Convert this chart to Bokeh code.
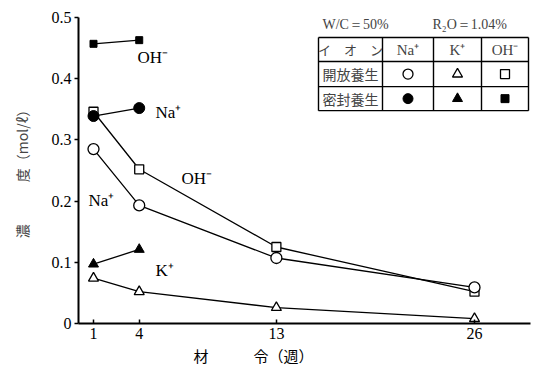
from bokeh.plotting import figure
from bokeh.models import Range1d, FixedTicker, Label, Title
from bokeh.embed import file_html
from bokeh.resources import INLINE

# ---- data ----
weeks_open = [1, 4, 13, 26]
na_open = [0.285, 0.193, 0.107, 0.059]
k_open = [0.074, 0.052, 0.026, 0.008]
oh_open = [0.346, 0.252, 0.125, 0.052]

weeks_sealed = [1, 4]
na_sealed = [0.339, 0.352]
k_sealed = [0.097, 0.121]
oh_sealed = [0.457, 0.463]

x_ticks = [1, 4, 13, 26]
y_ticks = [0, 0.1, 0.2, 0.3, 0.4, 0.5]
y_tick_labels = ["0", "0.1", "0.2", "0.3", "0.4", "0.5"]

SERIF = "Liberation Serif"
CJK = "Noto Sans CJK JP"

W, H = 533, 369
FL, FR, FT, FB = 78, 530, 17, 323  # frame pixel edges
X0, SX = 77.76, 15.24
Y0, SY = 322.5, 611.0


def dx(px):
    return (px - X0) / SX


def dy(py):
    return (Y0 - py) / SY


p = figure(width=W, height=H, output_backend="svg", toolbar_location=None,
           x_range=Range1d(dx(FL), dx(FR)), y_range=Range1d(0, 0.5),
           min_border_left=FL, min_border_right=W - FR,
           min_border_top=FT, min_border_bottom=H - FB)
p.outline_line_color = None
p.grid.visible = False
p.background_fill_color = "white"
p.border_fill_color = "white"

for ax in (p.xaxis[0], p.yaxis[0]):
    ax.axis_line_width = 2
    ax.axis_line_color = "black"
    ax.major_tick_line_color = "black"
    ax.major_tick_line_width = 1.5
    ax.minor_tick_line_color = None
    ax.major_label_text_font = SERIF
    ax.major_label_text_font_size = "16px"
    ax.major_label_text_color = "black"

p.xaxis.ticker = FixedTicker(ticks=x_ticks)
p.xaxis.major_tick_in = 4
p.xaxis.major_tick_out = 0
p.xaxis.major_label_standoff = 4

p.yaxis.ticker = FixedTicker(ticks=y_ticks)
p.yaxis.major_label_overrides = {t: s for t, s in zip(y_ticks, y_tick_labels)}
p.yaxis.major_tick_in = 0
p.yaxis.major_tick_out = 4
p.yaxis.major_label_standoff = 3
p.yaxis.axis_label = "濃　　　度（mol/ℓ）"
p.yaxis.axis_label_text_font = CJK
p.yaxis.axis_label_text_font_style = "normal"
p.yaxis.axis_label_text_font_size = "14px"
p.yaxis.axis_label_standoff = 17

# x-axis title, placed left of centre as in the original
xt = Title(text="材　　　令（週）", align="left", offset=193 - FL,
           text_font=CJK, text_font_size="15px", text_font_style="normal",
           text_color="black", standoff=3)
p.add_layout(xt, "below")

LW = 1.3
# open curing
p.line(weeks_open, oh_open, line_color="black", line_width=LW)
p.line(weeks_open, na_open, line_color="black", line_width=LW)
p.line(weeks_open, k_open, line_color="black", line_width=LW)
p.scatter(weeks_open, oh_open, marker="square", size=9, fill_color="white", line_color="black", line_width=1.3)
p.scatter(weeks_open, na_open, marker="circle", size=11, fill_color="white", line_color="black", line_width=1.3)
p.scatter(weeks_open, k_open, marker="triangle", size=10, fill_color="white", line_color="black", line_width=1.3)
# sealed curing
p.line(weeks_sealed, oh_sealed, line_color="black", line_width=LW)
p.line(weeks_sealed, na_sealed, line_color="black", line_width=LW)
p.line(weeks_sealed, k_sealed, line_color="black", line_width=LW)
p.scatter(weeks_sealed, oh_sealed, marker="square", size=7, fill_color="black", line_color="black")
p.scatter(weeks_sealed, na_sealed, marker="circle", size=11, fill_color="black", line_color="black")
p.scatter(weeks_sealed, k_sealed, marker="triangle", size=10, fill_color="black", line_color="black")

# curve labels
curve_labels = [("OH⁻", 137, 57), ("Na⁺", 155, 112), ("OH⁻", 181, 178),
                ("Na⁺", 88, 200), ("K⁺", 155, 270)]
for txt, px, py in curve_labels:
    p.add_layout(Label(x=dx(px), y=dy(py), text=txt, text_font=SERIF,
                       text_font_size="17px", text_baseline="middle", text_align="left",
                       text_color="black"))

# ---- legend table ----
p.add_layout(Label(x=dx(322), y=dy(24), text="W/C＝50%", text_font=SERIF,
                   text_font_size="14px", text_baseline="middle", text_align="left"))
p.add_layout(Label(x=dx(432), y=dy(24), text="R₂O＝1.04%", text_font=SERIF,
                   text_font_size="14px", text_baseline="middle", text_align="left"))

cols = [318, 382, 433, 481, 528]
rows = [37, 61, 86, 110]
seg_x0, seg_y0, seg_x1, seg_y1 = [], [], [], []
for c in cols:
    seg_x0.append(dx(c)); seg_x1.append(dx(c)); seg_y0.append(dy(rows[0])); seg_y1.append(dy(rows[-1]))
for r in rows:
    seg_x0.append(dx(cols[0])); seg_x1.append(dx(cols[-1])); seg_y0.append(dy(r)); seg_y1.append(dy(r))
p.segment(seg_x0, seg_y0, seg_x1, seg_y1, line_color="black", line_width=1.4)

row_c = [(rows[i] + rows[i + 1]) / 2 for i in range(3)]
col_c = [(cols[i] + cols[i + 1]) / 2 for i in range(4)]
header = ["イ　オ　ン", "Na⁺", "K⁺", "OH⁻"]
for i, h in enumerate(header):
    p.add_layout(Label(x=dx(col_c[i]), y=dy(row_c[0]), text=h,
                       text_font=CJK if i == 0 else SERIF,
                       text_font_size="13px" if i == 0 else "15px",
                       text_baseline="middle", text_align="center"))
for j, name in enumerate(["開放養生", "密封養生"]):
    p.add_layout(Label(x=dx(col_c[0]), y=dy(row_c[j + 1]), text=name, text_font=CJK,
                       text_font_size="14px", text_baseline="middle", text_align="center"))

markers = ["circle", "triangle", "square"]
for k, m in enumerate(markers):
    p.scatter([dx(col_c[k + 1])], [dy(row_c[1])], marker=m, size=10 if m != "square" else 9,
              fill_color="white", line_color="black", line_width=1.3)
    p.scatter([dx(col_c[k + 1])], [dy(row_c[2])], marker=m, size=10 if m != "square" else 8,
              fill_color="black", line_color="black")

open("out.html", "w").write(file_html(p, INLINE))
